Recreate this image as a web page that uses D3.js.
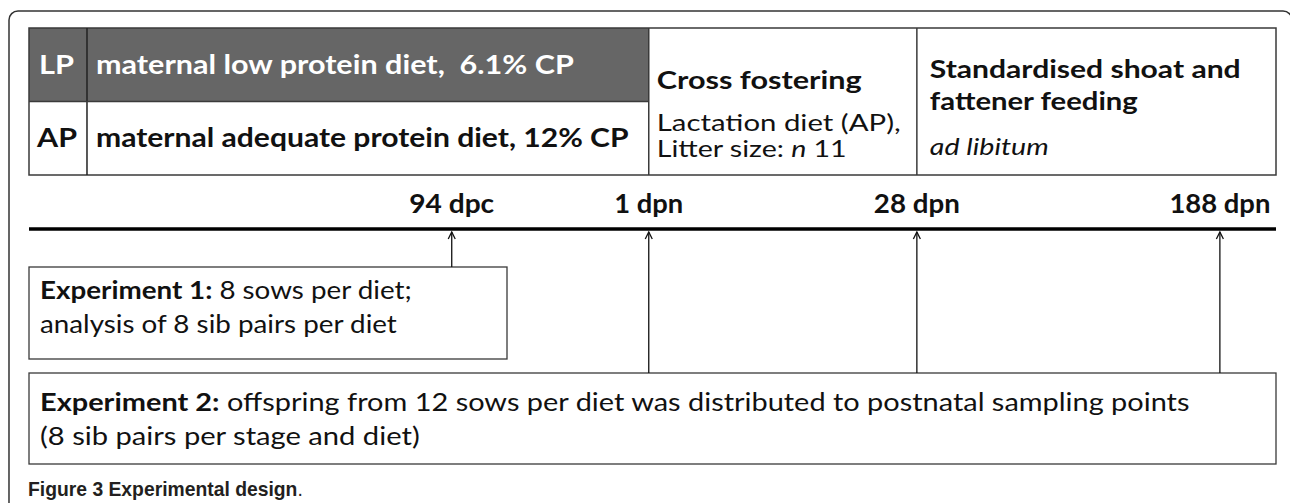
<!DOCTYPE html>
<html>
<head>
<meta charset="utf-8">
<script src="https://cdn.jsdelivr.net/npm/d3@7"></script>
<style>
  body { margin: 0; background: #fff; }
  svg { display: block; }
  text { white-space: pre; }
</style>
</head>
<body>
<svg id="chart" width="1290" height="503"></svg>
<script>
// Diet groups shown in the left part of the table
const diets = ['LP', 'AP']
const dietText = ['maternal low protein diet,  6.1% CP', 'maternal adequate protein diet, 12% CP']

// Sampling stages on the time line, position in % of the time line width (schematic)
const stages = ['94 dpc', '1 dpn', '28 dpn', '188 dpn']
const stagePos = [33.9, 49.7, 71.2, 95.5]

// Table column borders, % of the table width
const columnEdges = [0, 4.65, 49.7, 71.2, 100]

const crossFostering = ['Cross fostering', 'Lactation diet (AP),', 'Litter size: ']
const feeding = ['Standardised shoat and', 'fattener feeding', 'ad libitum']

const exp1 = ['Experiment 1:', ' 8 sows per diet;', 'analysis of 8 sib pairs per diet']
const exp2 = ['Experiment 2:', ' offspring from 12 sows per diet was distributed to postnatal sampling points', '(8 sib pairs per stage and diet)']

const caption = ['Figure 3 Experimental design', '.']

const svg = d3.select('#chart')
const ink = '#111'
const rule = '#3a3a3a'
const font = 'Lato, "DejaVu Sans", sans-serif'

const x = d3.scaleLinear().domain([0, 100]).range([29, 1276])

// table rows
const tableTop = 28
const tableBottom = 175
const rowY = d3.scaleBand().domain(diets).range([tableTop, tableBottom])

// write a line of text made from parts [text, weight, style], squeezed to a given width
function line (g, x0, y0, parts, width, size, fill, family) {
  const t = g.append('text')
    .attr('font-family', family || font)
    .attr('font-size', size)
    .attr('fill', fill || ink)
  parts.forEach(p => {
    t.append('tspan')
      .attr('font-weight', p[1] || 'normal')
      .attr('font-style', p[2] || 'normal')
      .text(p[0])
  })
  const w = t.node().getComputedTextLength()
  const k = width ? width / w : 1
  t.attr('transform', `translate(${x0},${y0}) scale(${k},1)`)
  return t
}

// outer frame, cut by the right and bottom edge of the picture
svg.append('rect')
  .attr('x', 9).attr('y', 11)
  .attr('width', 1283).attr('height', 600)
  .attr('rx', 9)
  .attr('fill', 'none')
  .attr('stroke', '#333')
  .attr('stroke-width', 1.5)

// ---- table ----
const table = svg.append('g')

table.append('rect')
  .attr('x', x(columnEdges[0]))
  .attr('y', rowY('LP'))
  .attr('width', x(columnEdges[2]) - x(columnEdges[0]))
  .attr('height', rowY.bandwidth())
  .attr('fill', '#666')

table.append('rect')
  .attr('x', x(0)).attr('y', tableTop)
  .attr('width', x(100) - x(0)).attr('height', tableBottom - tableTop)
  .attr('fill', 'none')
  .attr('stroke', rule)
  .attr('stroke-width', 1.5)

table.selectAll('line.col')
  .data(columnEdges.slice(1, -1))
  .join('line')
  .attr('class', 'col')
  .attr('x1', d => x(d)).attr('x2', d => x(d))
  .attr('y1', tableTop).attr('y2', tableBottom)
  .attr('stroke', (d, i) => i === 0 ? '#222' : rule)
  .attr('stroke-width', 1.5)

table.append('line')
  .attr('x1', x(columnEdges[0])).attr('x2', x(columnEdges[2]))
  .attr('y1', rowY('AP')).attr('y2', rowY('AP'))
  .attr('stroke', rule)
  .attr('stroke-width', 1.5)

const dietWidth = [35, 40]
const dietTextWidth = [478, 533]
diets.forEach((d, i) => {
  const base = rowY(d) + rowY.bandwidth() / 2 + 9
  const fill = d === 'LP' ? '#fff' : ink
  line(table, i === 0 ? 39 : 37, base, [[d, 'bold']], dietWidth[i], 27.5, fill)
  line(table, 96, base, [[dietText[i], 'bold']], dietTextWidth[i], 27.5, fill)
})

// cross fostering column
const cfX = x(columnEdges[2]) + 8
line(table, cfX, 89, [[crossFostering[0], 'bold']], 205, 24)
line(table, cfX, 131, [[crossFostering[1]]], 244, 23)
line(table, cfX, 157, [[crossFostering[2]], ['n', 'normal', 'italic'], [' 11']], 190, 23)

// feeding column
const fdX = x(columnEdges[3]) + 13
line(table, fdX, 78, [[feeding[0], 'bold']], 311, 24.5)
line(table, fdX, 110, [[feeding[1], 'bold']], 208, 24.5)
line(table, fdX, 155, [[feeding[2], 'normal', 'italic']], 119, 23)

// ---- time line ----
const lineY = 229
svg.append('line')
  .attr('x1', x(0)).attr('x2', x(100))
  .attr('y1', lineY).attr('y2', lineY)
  .attr('stroke', '#000')
  .attr('stroke-width', 3.5)

const stageWidth = [85, 69, 86, 101]
stages.forEach((s, i) => {
  line(svg, x(stagePos[i]) - stageWidth[i] / 2, 213, [[s, 'bold']], stageWidth[i], 27.5)
})

// ---- experiment boxes ----
const box1 = { top: 267, bottom: 359, right: 507 }
const box2 = { top: 373, bottom: 464, right: x(100) }

svg.append('rect')
  .attr('x', x(0)).attr('y', box1.top)
  .attr('width', box1.right - x(0)).attr('height', box1.bottom - box1.top)
  .attr('fill', 'none').attr('stroke', rule).attr('stroke-width', 1.3)

svg.append('rect')
  .attr('x', x(0)).attr('y', box2.top)
  .attr('width', box2.right - x(0)).attr('height', box2.bottom - box2.top)
  .attr('fill', 'none').attr('stroke', rule).attr('stroke-width', 1.3)

line(svg, 40, 299, [[exp1[0], 'bold'], [exp1[1]]], 372, 24.5)
line(svg, 40, 333, [[exp1[2]]], 357, 24.5)
line(svg, 40, 411, [[exp2[0], 'bold'], [exp2[1]]], 1150, 24.5)
line(svg, 40, 445, [[exp2[2]]], 380, 24.5)

// arrows from the boxes up to the time line
const tipY = lineY + 3
const arrows = svg.selectAll('g.arrow')
  .data(stages)
  .join('g')
  .attr('class', 'arrow')
  .attr('transform', (d, i) => `translate(${x(stagePos[i])},0)`)

arrows.append('line')
  .attr('y1', (d, i) => i === 0 ? box1.top : box2.top)
  .attr('y2', tipY)
  .attr('stroke', '#111')
  .attr('stroke-width', 1.3)

arrows.append('path')
  .attr('d', `M-3.5,${tipY + 7} L0,${tipY} L3.5,${tipY + 7}`)
  .attr('fill', 'none')
  .attr('stroke', '#111')
  .attr('stroke-width', 1.3)

// caption
line(svg, 28, 496, [[caption[0], 'bold'], [caption[1]]], 275, 20.5, '#231f20', '"Liberation Sans", Arial, sans-serif')
</script>
</body>
</html>
